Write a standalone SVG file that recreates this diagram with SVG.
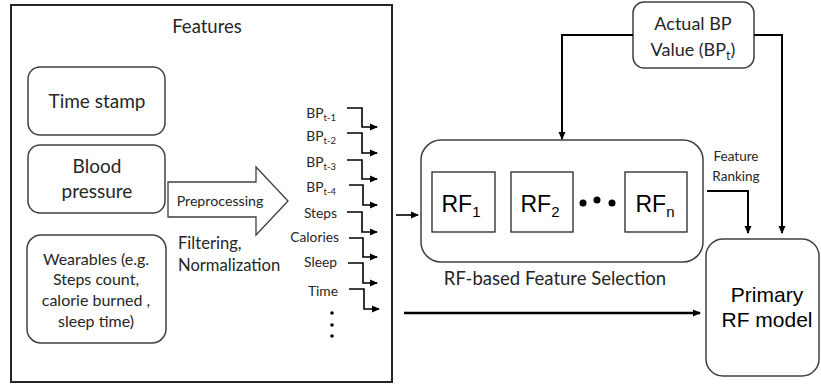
<svg xmlns="http://www.w3.org/2000/svg" width="821" height="385" viewBox="0 0 821 385">
<style>
.box{fill:#fff;stroke:#404040;stroke-width:1.5}
.cal{font-family:Lato,"Open Sans",sans-serif;fill:#262626}
.ar{font-family:"Liberation Sans",Arial,sans-serif;fill:#000}
.ln{fill:none;stroke:#000;stroke-width:2}
</style>
<defs>
<marker id="ah" markerWidth="8" markerHeight="8" refX="7" refY="4" orient="auto" markerUnits="userSpaceOnUse">
<path d="M0,0.5 L8,4 L0,7.5 Z" fill="#000"/>
</marker>
</defs>
<rect width="821" height="385" fill="#fff"/>
<g id="features">
<rect x="11" y="5" width="381" height="377" fill="#fff" stroke="#262626" stroke-width="2"/>
<text class="cal" x="207" y="33" font-size="18.5" text-anchor="middle">Features</text>
</g>
<g id="timestamp">
<rect class="box" x="28" y="67" width="137" height="68" rx="12"/>
<text class="cal" x="97" y="108" font-size="19" text-anchor="middle">Time stamp</text>
</g>
<g id="bloodpressure">
<rect class="box" x="28" y="145" width="137" height="68" rx="12"/>
<text class="cal" x="97" y="173" font-size="19" text-anchor="middle">Blood</text>
<text class="cal" x="97" y="198" font-size="19" text-anchor="middle">pressure</text>
</g>
<g id="wearables">
<rect class="box" x="27" y="235" width="139" height="108" rx="14"/>
<text class="cal" font-size="16" text-anchor="middle"><tspan x="96" y="265">Wearables (e.g.</tspan><tspan x="96" y="285">Steps count,</tspan><tspan x="96" y="306">calorie burned ,</tspan><tspan x="96" y="327">sleep time)</tspan></text>
</g>
<g id="preprocessing">
<path d="M168,182 H256 V167 L288,201 L256,235 V217 H168 Z" fill="#fff" stroke="#404040" stroke-width="1.3"/>
<text class="cal" x="220" y="206" font-size="14.2" text-anchor="middle">Preprocessing</text>
<text class="cal" font-size="16.6"><tspan x="178" y="249">Filtering,</tspan><tspan x="178" y="271">Normalization</tspan></text>
</g>
<g id="featurelist" class="cal" font-size="13.8" text-anchor="end">
<text x="336" y="118">BP<tspan font-size="9.5" dy="3">t-1</tspan></text>
<text x="336" y="141">BP<tspan font-size="9.5" dy="3">t-2</tspan></text>
<text x="336" y="167">BP<tspan font-size="9.5" dy="3">t-3</tspan></text>
<text x="336" y="192">BP<tspan font-size="9.5" dy="3">t-4</tspan></text>
<text x="337" y="218">Steps</text>
<text x="339" y="242">Calories</text>
<text x="337" y="267">Sleep</text>
<text x="338" y="296">Time</text>
<circle cx="332" cy="313" r="1.8" fill="#000"/>
<circle cx="332" cy="325" r="1.8" fill="#000"/>
<circle cx="332" cy="336" r="1.8" fill="#000"/>
</g>
<g id="actualbp">
<rect class="box" x="633" y="2" width="121" height="66" rx="11"/>
<text class="cal" x="693" y="30" font-size="18" text-anchor="middle">Actual BP</text>
<text class="cal" x="693" y="56" font-size="18" text-anchor="middle">Value (BP<tspan font-size="12.5" dy="4">t</tspan><tspan dy="-4">)</tspan></text>
</g>
<g id="rfselection">
<rect class="box" x="421" y="140" width="282" height="122" rx="20"/>
<text class="cal" x="555" y="285" font-size="18.5" text-anchor="middle">RF-based Feature Selection</text>
</g>
<g id="rf1">
<rect x="432" y="172" width="63" height="60" fill="#fff" stroke="#262626" stroke-width="1.3"/>
<text class="ar" x="461" y="212" font-size="23" text-anchor="middle">RF<tspan font-size="15" dy="5">1</tspan></text>
</g>
<g id="rf2">
<rect x="511" y="172" width="62" height="60" fill="#fff" stroke="#262626" stroke-width="1.3"/>
<text class="ar" x="540" y="212" font-size="23" text-anchor="middle">RF<tspan font-size="15" dy="5">2</tspan></text>
</g>
<g id="dots">
<circle cx="583" cy="203" r="3.5" fill="#000"/>
<circle cx="597" cy="200" r="3.5" fill="#000"/>
<circle cx="612" cy="203" r="3.5" fill="#000"/>
</g>
<g id="rfn">
<rect x="625" y="172" width="62" height="60" fill="#fff" stroke="#262626" stroke-width="1.3"/>
<text class="ar" x="655" y="212" font-size="23" text-anchor="middle">RF<tspan font-size="15" dy="5">n</tspan></text>
</g>
<g id="primary">
<rect class="box" x="706" y="239" width="113" height="137" rx="17"/>
<text class="ar" x="767" y="302" font-size="21" text-anchor="middle">Primary</text>
<text class="ar" x="767" y="327" font-size="21" text-anchor="middle">RF model</text>
</g>
<g id="featureranking">
<text class="cal" x="736" y="161" font-size="13.5" text-anchor="middle">Feature</text>
<text class="cal" x="736" y="181" font-size="13.5" text-anchor="middle">Ranking</text>
</g>
<g id="connectors" class="ln">
<path d="M347,108 H362 V127 H377" marker-end="url(#ah)" stroke-width="1.6"/>
<path d="M347,133 H362 V153 H377" marker-end="url(#ah)" stroke-width="1.6"/>
<path d="M347,160 H362 V179 H377" marker-end="url(#ah)" stroke-width="1.6"/>
<path d="M349,185 H363 V205 H377" marker-end="url(#ah)" stroke-width="1.6"/>
<path d="M347,212 H362 V232 H377" marker-end="url(#ah)" stroke-width="1.6"/>
<path d="M349,238 H363 V257 H377" marker-end="url(#ah)" stroke-width="1.6"/>
<path d="M348,263 H363 V283 H377" marker-end="url(#ah)" stroke-width="1.6"/>
<path d="M349,289 H364 V309 H379" marker-end="url(#ah)" stroke-width="1.6"/>
<path d="M396,215 H418" marker-end="url(#ah)" stroke-width="1.6"/>
<path d="M404,313 H700" marker-end="url(#ah)" stroke-width="2.5"/>
<path d="M633,35 H562 V139" marker-end="url(#ah)"/>
<path d="M754,35 H782 V233" marker-end="url(#ah)"/>
<path d="M707,191 H748 V233" marker-end="url(#ah)"/>
</g>
</svg>
